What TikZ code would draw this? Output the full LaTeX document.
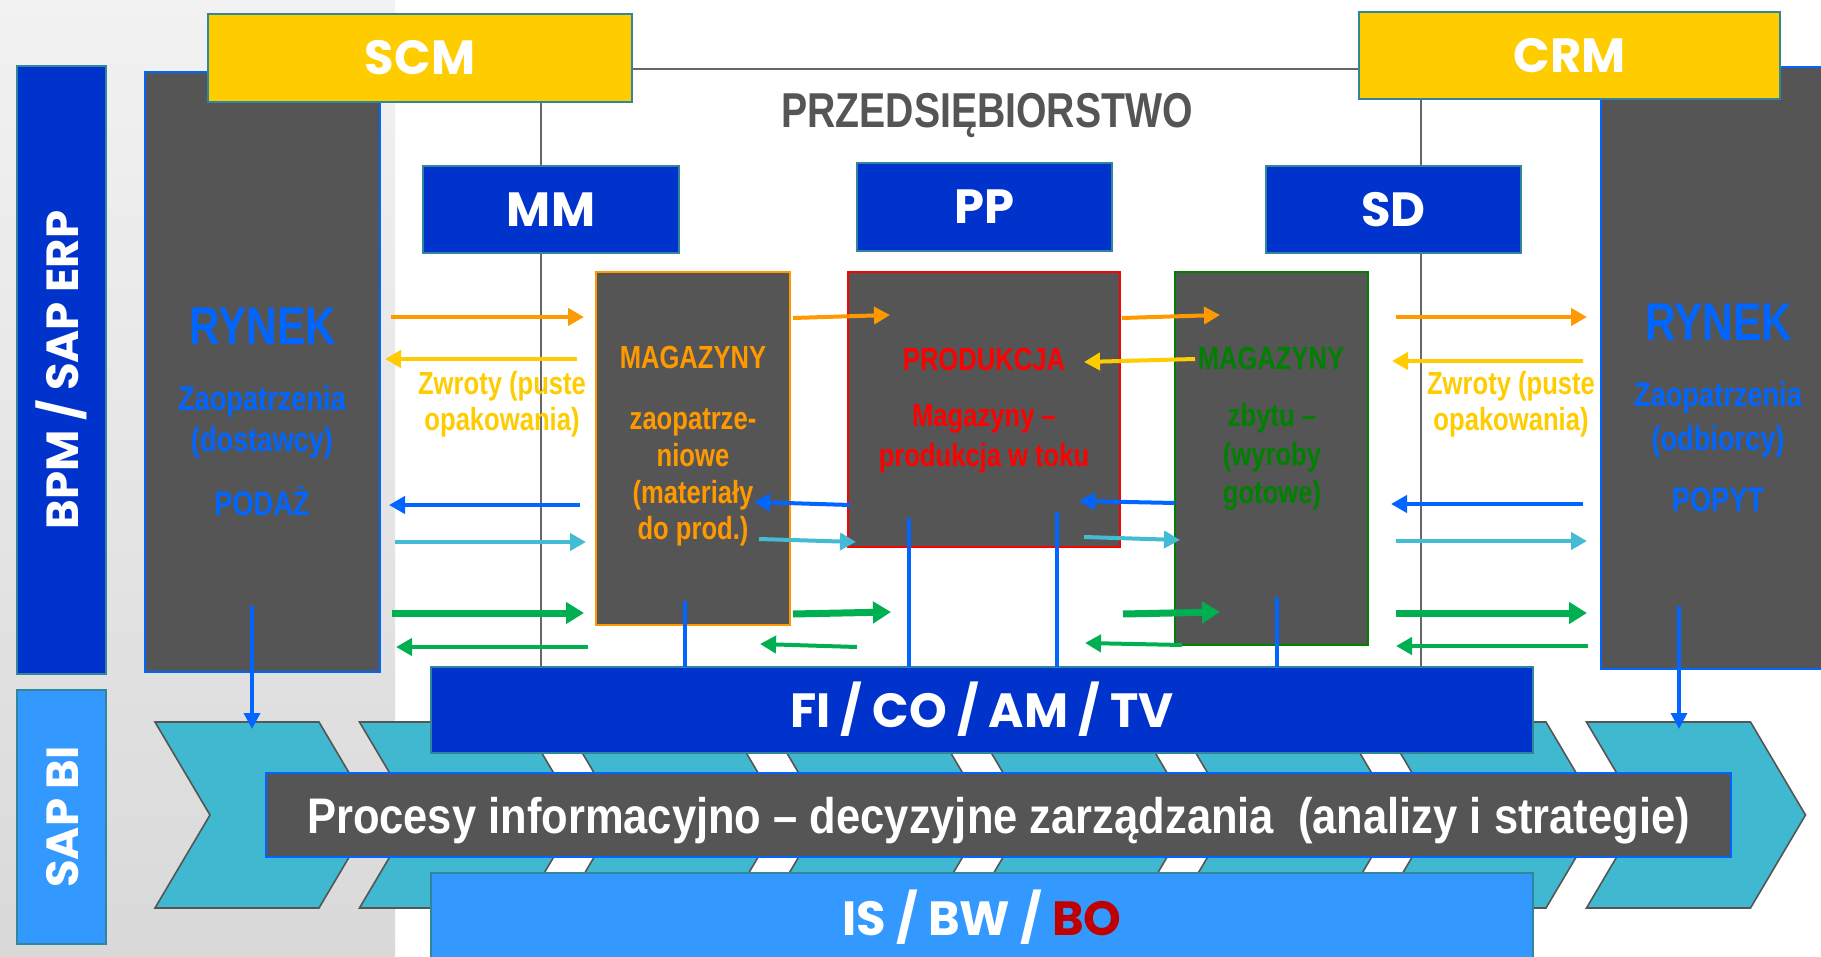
\documentclass[tikz,border=0pt]{standalone}
\usepackage{fontspec}
\setmainfont{Liberation Sans}
\newfontfamily\narrowfont[FakeStretch=0.8]{Liberation Sans}
\newfontfamily\bandfont[FakeStretch=0.87]{Liberation Sans}
\newfontfamily\geofont{Poppins}
\usetikzlibrary{arrows.meta}

\definecolor{erpblue}{HTML}{0033CC}
\definecolor{biblue}{HTML}{3399FF}
\definecolor{rimteal}{HTML}{31859C}
\definecolor{boxgrey}{HTML}{555555}
\definecolor{mktblue}{HTML}{0066FF}
\definecolor{suiteyellow}{HTML}{FFCC00}
\definecolor{floworange}{HTML}{FF9900}
\definecolor{flowcyan}{HTML}{44BBD4}
\definecolor{flowgreen}{HTML}{00B050}
\definecolor{chevfill}{HTML}{40B8D0}
\definecolor{stockgreen}{HTML}{008000}
\definecolor{bored}{HTML}{C00000}
\definecolor{bgtop}{HTML}{F2F2F2}
\definecolor{bgbottom}{HTML}{D9D9D9}

\tikzset{
  box/.style={inner sep=0pt, outer sep=0pt, line width=2pt},
  module/.style={box, draw=rimteal, fill=erpblue, text=white,
    text height=34pt, text depth=0pt,
    font=\geofont\bfseries\fontsize{48}{52}\selectfont},
  suite/.style={box, draw=rimteal, fill=suiteyellow, text=white,
    text height=34pt, text depth=0pt,
    font=\geofont\bfseries\fontsize{48}{52}\selectfont},
  sidebar/.style={module, rotate=90,
    font=\geofont\bfseries\fontsize{45}{50}\selectfont},
  market/.style={box, draw=mktblue, fill=boxgrey},
  store/.style={box, fill=boxgrey},
  label/.style={inner sep=0pt, anchor=base,
    font=\narrowfont\bfseries\fontsize{32}{38}\selectfont},
  mktlabel/.style={label, text=mktblue,
    font=\narrowfont\bfseries\fontsize{34}{40}\selectfont},
  flow/.style={line width=4pt, -{Triangle[length=16pt,width=17pt]}},
  bigflow/.style={line width=7pt, -{Triangle[length=18pt,width=21pt]}},
  link/.style={draw=mktblue, line width=3.5pt},
  frameline/.style={draw=black!60, line width=2pt},
  chevline/.style={fill=chevfill, draw=boxgrey, line width=1.6pt},
  chevron/.pic={\draw[chevline] (0,0) -- (164,0) -- (219,93) -- (164,186)
    -- (0,186) -- (55,93) -- cycle;}
}

\begin{document}
\begin{tikzpicture}[x=1pt,y=-1pt]
  \useasboundingbox (0,0) rectangle (1821,957);
  \clip (0,0) rectangle (1821,957);
  \fill[white] (0,0) rectangle (1821,957);
  \shade[top color=bgtop, bottom color=bgbottom] (0,0) rectangle (395,957);

  % value chain arrows
  \pic at (155,722) {chevron};
  \pic at (359.5,722) {chevron};
  \pic at (564,722) {chevron};
  \pic at (768.5,722) {chevron};
  \pic at (973,722) {chevron};
  \pic at (1177.5,722) {chevron};
  \pic at (1382,722) {chevron};
  \pic at (1586.5,722) {chevron};

  % side bars
  \node[sidebar, minimum width=608pt, minimum height=89pt] (erp) at (61.5,370) {BPM / SAP ERP};
  \node[sidebar, fill=biblue, minimum width=254pt, minimum height=89pt] (bi) at (61.5,817) {SAP BI};

  % bands
  \node[module, minimum width=1102pt, minimum height=86pt] (fi) at (982,710) {FI / CO / AM / TV};
  \node[box, draw=mktblue, fill=boxgrey, text=white, minimum width=1465pt, minimum height=84pt,
    text height=36pt, text depth=0pt, font=\bandfont\bfseries\fontsize{50}{56}\selectfont]
    (proc) at (998.5,815) {Procesy informacyjno – decyzyjne zarządzania\ \ (analizy i strategie)};
  \node[module, fill=biblue, minimum width=1102pt, minimum height=90pt] (is) at (982,918)
    {IS / BW / \textcolor{bored}{BO}};

  % enterprise frame
  \coordinate (fL) at (632,69);
  \coordinate (fR) at (1359,69);
  \coordinate (vL) at (541,102);
  \coordinate (vR) at (1421,99);
  \draw[frameline] (fL) -- (fR);
  \draw[frameline] (vL) -- (vL |- fi.north);
  \draw[frameline] (vR) -- (vR |- fi.north);

  % markets and suites
  \node[market, minimum width=235pt, minimum height=600pt] (mktL) at (262.5,372) {};
  \node[market, minimum width=259pt, minimum height=602pt] (mktR) at (1730.5,368) {};
  \node[suite, minimum width=424pt, minimum height=88pt] (scm) at (420,58) {SCM};
  \node[suite, minimum width=421pt, minimum height=87pt] (crm) at (1569.5,55.5) {CRM};

  % modules
  \node[module, minimum width=256pt, minimum height=87pt] (mm) at (551,209.5) {MM};
  \node[module, minimum width=255pt, minimum height=88pt] (pp) at (984.5,207) {PP};
  \node[module, minimum width=255pt, minimum height=87pt] (sd) at (1393.5,209.5) {SD};
  \node[label, anchor=base, text=boxgrey, font=\narrowfont\bfseries\fontsize{49}{56}\selectfont]
    (firm) at (987,128) {PRZEDSIĘBIORSTWO};

  % stores
  \node[store, draw=floworange, minimum width=194pt, minimum height=353pt] (stIn) at (693,448.5) {};
  \node[store, draw=red, minimum width=272pt, minimum height=275pt] (stProd) at (984,409.5) {};
  \node[store, draw=stockgreen, minimum width=193pt, minimum height=373pt] (stOut) at (1271.5,458.5) {};

  % texts of the markets
  \node[mktlabel, font=\narrowfont\bfseries\fontsize{53}{60}\selectfont] (mktLa) at (263,345) {RYNEK};
  \node[mktlabel] (mktLb) at (262,410) {Zaopatrzenia};
  \node[mktlabel] (mktLc) at (262,452) {(dostawcy)};
  \node[mktlabel] (mktLd) at (262,515) {PODAŻ};
  \node[mktlabel, font=\narrowfont\bfseries\fontsize{53}{60}\selectfont] (mktRa) at (1719,341) {RYNEK};
  \node[mktlabel] (mktRb) at (1718,407) {Zaopatrzenia};
  \node[mktlabel] (mktRc) at (1718,450) {(odbiorcy)};
  \node[mktlabel] (mktRd) at (1718,511) {POPYT};

  % texts of the stores
  \node[label, text=floworange] (stInA) at (693,369) {MAGAZYNY};
  \node[label, text=floworange] (stInB) at (693,430) {zaopatrze-};
  \node[label, text=floworange] (stInC) at (693,467) {niowe};
  \node[label, text=floworange] (stInD) at (693,503) {(materiały};
  \node[label, text=floworange] (stInE) at (693,539) {do prod.)};
  \node[label, text=red] (stProdA) at (984,371) {PRODUKCJA};
  \node[label, text=red] (stProdB) at (984,427) {Magazyny –};
  \node[label, text=red] (stProdC) at (984,466) {produkcja w toku};
  \node[label, text=stockgreen] (stOutA) at (1271,370) {MAGAZYNY};
  \node[label, text=stockgreen] (stOutB) at (1272,427) {zbytu –};
  \node[label, text=stockgreen] (stOutC) at (1272,465) {(wyroby};
  \node[label, text=stockgreen] (stOutD) at (1272,503) {gotowe)};

  \node[label, text=suiteyellow] (retLa) at (502,395) {Zwroty (puste};
  \node[label, text=suiteyellow] (retLb) at (502,431) {opakowania)};
  \node[label, text=suiteyellow] (retRa) at (1511,395) {Zwroty (puste};
  \node[label, text=suiteyellow] (retRb) at (1511,431) {opakowania)};

  % flows: supply market -- MM
  \coordinate (L1a) at (391,317); \coordinate (L1b) at (584,317);
  \coordinate (L2a) at (577,359); \coordinate (L2b) at (385,359);
  \coordinate (L3a) at (580,505); \coordinate (L3b) at (389,505);
  \coordinate (L4a) at (395,542); \coordinate (L4b) at (586,542);
  \coordinate (L5a) at (392,613); \coordinate (L5b) at (584,613);
  \coordinate (L6a) at (588,647); \coordinate (L6b) at (396,647);
  % flows: MM stores -- production
  \coordinate (M1a) at (793,318); \coordinate (M1b) at (890,315);
  \coordinate (M2a) at (850,505); \coordinate (M2b) at (754,502);
  \coordinate (M3a) at (759,539); \coordinate (M3b) at (856,542);
  \coordinate (M4a) at (793,614); \coordinate (M4b) at (891,612);
  \coordinate (M5a) at (857,647); \coordinate (M5b) at (760,644);
  % flows: production -- SD stores
  \coordinate (N1a) at (1122,318); \coordinate (N1b) at (1220,315);
  \coordinate (N2a) at (1195,359); \coordinate (N2b) at (1084,362);
  \coordinate (N3a) at (1175,503); \coordinate (N3b) at (1079,501);
  \coordinate (N4a) at (1084,537); \coordinate (N4b) at (1180,540);
  \coordinate (N5a) at (1123,614); \coordinate (N5b) at (1220,612);
  \coordinate (N6a) at (1182,645); \coordinate (N6b) at (1085,643);
  % flows: SD stores -- demand market
  \coordinate (R1a) at (1396,317); \coordinate (R1b) at (1587,317);
  \coordinate (R2a) at (1583,361); \coordinate (R2b) at (1392,361);
  \coordinate (R3a) at (1583,504); \coordinate (R3b) at (1391,504);
  \coordinate (R4a) at (1396,541); \coordinate (R4b) at (1587,541);
  \coordinate (R5a) at (1396,613); \coordinate (R5b) at (1587,613);
  \coordinate (R6a) at (1588,646); \coordinate (R6b) at (1396,646);

  \begin{scope}[flow]
    \draw[floworange] (L1a) to (L1b);
    \draw[suiteyellow] (L2a) to (L2b);
    \draw[mktblue] (L3a) to (L3b);
    \draw[flowcyan] (L4a) to (L4b);
    \draw[flowgreen] (L6a) to (L6b);
    \draw[floworange] (M1a) to (M1b);
    \draw[mktblue] (M2a) to (M2b);
    \draw[flowcyan] (M3a) to (M3b);
    \draw[flowgreen] (M5a) to (M5b);
    \draw[floworange] (N1a) to (N1b);
    \draw[suiteyellow] (N2a) to (N2b);
    \draw[mktblue] (N3a) to (N3b);
    \draw[flowcyan] (N4a) to (N4b);
    \draw[flowgreen] (N6a) to (N6b);
    \draw[floworange] (R1a) to (R1b);
    \draw[suiteyellow] (R2a) to (R2b);
    \draw[mktblue] (R3a) to (R3b);
    \draw[flowcyan] (R4a) to (R4b);
    \draw[flowgreen] (R6a) to (R6b);
  \end{scope}
  \begin{scope}[bigflow, flowgreen]
    \draw (L5a) to (L5b);
    \draw (M4a) to (M4b);
    \draw (N5a) to (N5b);
    \draw (R5a) to (R5b);
  \end{scope}

  % links to the accounting band and the BI chain
  \coordinate (kIn) at (685,601);
  \coordinate (kP1) at (909,518);
  \coordinate (kP2) at (1057,512);
  \coordinate (kOut) at (1277,597);
  \coordinate (kL) at (252,606);
  \coordinate (kLb) at (252,729);
  \coordinate (kR) at (1679,606);
  \coordinate (kRb) at (1679,729);
  \begin{scope}[link]
    \draw (kIn) to (kIn |- fi.north);
    \draw (kP1) to (kP1 |- fi.north);
    \draw (kP2) to (kP2 |- fi.north);
    \draw (kOut) to (kOut |- fi.north);
    \draw[-{Triangle[length=16pt,width=16pt]}] (kL) to (kLb);
    \draw[-{Triangle[length=16pt,width=16pt]}] (kR) to (kRb);
  \end{scope}
\end{tikzpicture}
\end{document}
